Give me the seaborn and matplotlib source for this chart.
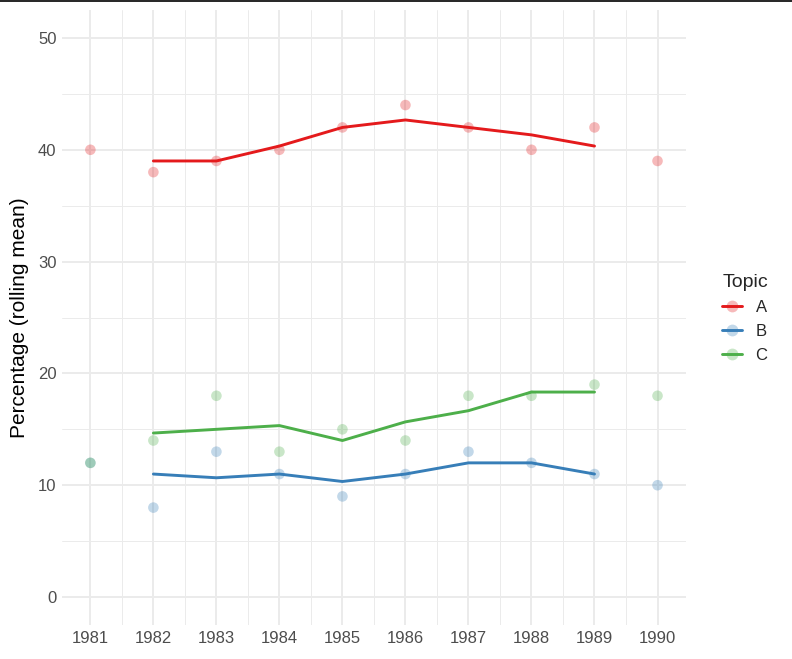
import matplotlib
matplotlib.use("Agg")
import matplotlib.pyplot as plt
from matplotlib.lines import Line2D
import seaborn as sns
import pandas as pd
import numpy as np

years = [1981, 1982, 1983, 1984, 1985, 1986, 1987, 1988, 1989, 1990]
topic_a = [40, 38, 39, 40, 42, 44, 42, 40, 42, 39]
topic_b = [12, 8, 13, 11, 9, 11, 13, 12, 11, 10]
topic_c = [12, 14, 18, 13, 15, 14, 18, 18, 19, 18]
topics = ["A", "B", "C"]
palette = {"A": "#E41A1C", "B": "#377EB8", "C": "#4DAF4A"}

frames = []
for t, vals in zip(topics, [topic_a, topic_b, topic_c]):
    d = pd.DataFrame({"year": years, "value": vals, "Topic": t})
    d["roll"] = d["value"].rolling(3, center=True).mean()
    frames.append(d)
df = pd.concat(frames, ignore_index=True)

sns.set_theme(style="whitegrid")
plt.rcParams["font.family"] = ["Liberation Sans", "DejaVu Sans"]

fig = plt.figure(figsize=(7.92, 6.59), dpi=100)
ax = fig.add_axes([0.0783, 0.0516, 0.866 - 0.0783, 0.9848 - 0.0516])

sns.scatterplot(data=df, x="year", y="value", hue="Topic", palette=palette,
                s=58, alpha=0.3, edgecolor="none", legend=False, ax=ax, zorder=3)
sns.lineplot(data=df.dropna(subset=["roll"]), x="year", y="roll", hue="Topic",
             palette=palette, linewidth=2.1, legend=False, ax=ax, zorder=4)

ax.set_xlim(1980.55, 1990.45)
ax.set_ylim(-2.5, 52.5)
ax.set_xticks(years)
ax.set_xticks(np.arange(1981.5, 1990, 1.0), minor=True)
ax.set_yticks([0, 10, 20, 30, 40, 50])
ax.set_yticks([5, 15, 25, 35, 45], minor=True)
ax.grid(which="major", color="#ebebeb", linewidth=1.4)
ax.grid(which="minor", color="#ebebeb", linewidth=0.7)
ax.set_axisbelow(True)
for s in ax.spines.values():
    s.set_visible(False)
ax.set_facecolor("white")
ax.tick_params(which="both", length=0, labelsize=12, labelcolor="#4d4d4d", pad=4)
ax.set_xlabel("")
ax.set_ylabel("Percentage (rolling mean)", fontsize=15, color="black", labelpad=6)

handles = []
for t in topics:
    h = Line2D([0], [0], color=palette[t], lw=2.1, marker="o", markersize=8.5,
               markeredgecolor="none")
    h.set_markerfacecolor(matplotlib.colors.to_rgba(palette[t], 0.3))
    handles.append(h)
leg = fig.legend(handles, topics, title="Topic", loc="center left",
                 bbox_to_anchor=(0.893, 0.517), frameon=False, fontsize=12,
                 title_fontsize=14, handlelength=1.2, handletextpad=0.8,
                 labelspacing=0.55, alignment="left")

fig.add_artist(Line2D([0, 1], [0.999, 0.999], color="black", lw=1.2,
                      transform=fig.transFigure))

fig.savefig("out.png", dpi=100)
